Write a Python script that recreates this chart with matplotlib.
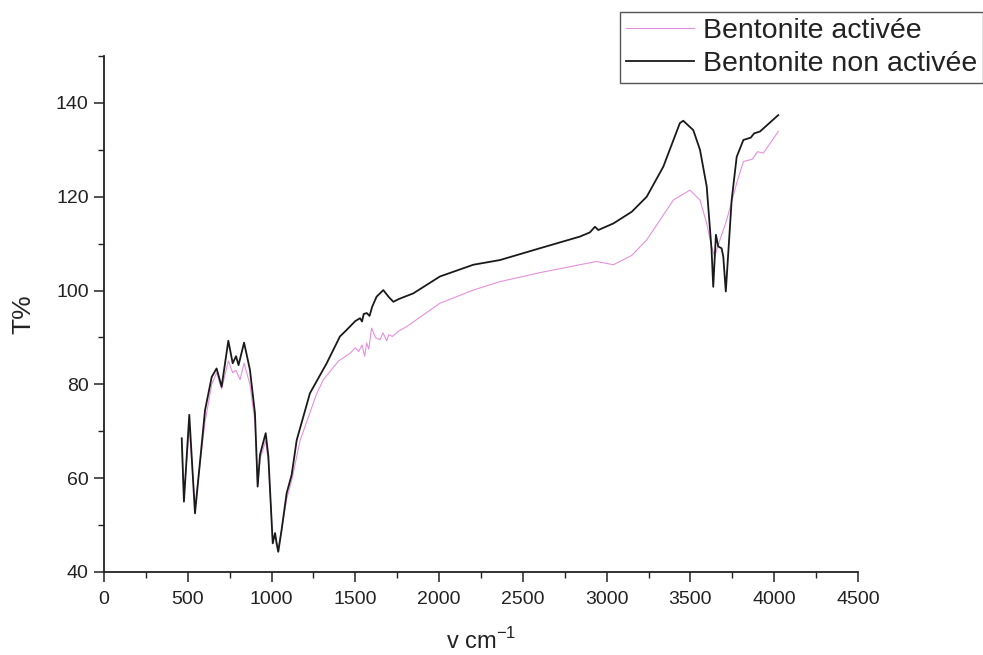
import matplotlib
matplotlib.use("Agg")
import matplotlib.pyplot as plt
from matplotlib.ticker import MultipleLocator

# Bentonite non activée (black)
wn_raw = [464, 477, 509, 543, 603, 643, 672, 702, 742, 768, 788, 803, 836, 871, 901, 917, 931,
          965, 981, 1007, 1021, 1030, 1040, 1060, 1090, 1120, 1150, 1229, 1329, 1408, 1448, 1500,
          1528, 1540, 1550, 1568, 1585, 1600, 1627, 1667, 1700, 1727, 1760, 1846, 2005, 2204,
          2363, 2600, 2840, 2900, 2930, 2950, 3040, 3150, 3239, 3338, 3437, 3457, 3517, 3557,
          3597, 3626, 3636, 3652, 3666, 3686, 3696, 3711, 3746, 3776, 3816, 3860, 3880, 3915, 4024]
t_raw = [68.5, 55.0, 73.5, 52.5, 74.5, 81.6, 83.4, 79.5, 89.3, 84.5, 86.0, 84.1, 88.9, 83.1, 73.8,
         58.2, 65.0, 69.6, 64.6, 46.1, 48.3, 46.1, 44.3, 49.0, 56.8, 60.7, 68.1, 78.1, 84.5, 90.2,
         91.6, 93.5, 94.1, 93.4, 95.0, 95.2, 94.6, 96.5, 98.7, 100.1, 98.6, 97.6, 98.2, 99.4,
         103.0, 105.5, 106.5, 109.0, 111.5, 112.4, 113.6, 112.9, 114.3, 116.8, 120.0, 126.4,
         135.7, 136.2, 134.2, 130.0, 122.2, 108.7, 100.8, 111.9, 109.4, 109.0, 107.2, 99.8, 119.3,
         128.5, 132.1, 132.6, 133.5, 133.9, 137.4]

# Bentonite activée (pink)
wn_act = [464, 477, 509, 543, 603, 643, 672, 702, 742, 768, 788, 812, 836, 871, 901, 917, 931,
          965, 981, 1007, 1021, 1040, 1060, 1090, 1120, 1170, 1269, 1309, 1400, 1468, 1500, 1520,
          1540, 1555, 1568, 1580, 1597, 1620, 1647, 1665, 1687, 1700, 1720, 1760, 1806, 2005,
          2204, 2363, 2600, 2840, 2940, 3040, 3150, 3239, 3398, 3497, 3557, 3597, 3626, 3645,
          3660, 3676, 3716, 3776, 3790, 3816, 3870, 3900, 3935, 4024]
t_act = [67.0, 56.0, 71.0, 54.0, 72.0, 80.0, 82.5, 79.0, 85.0, 82.5, 83.0, 81.0, 84.5, 80.0, 72.0,
         58.5, 64.0, 68.0, 63.5, 46.5, 48.0, 45.0, 49.0, 55.5, 59.5, 68.0, 78.0, 81.0, 85.0, 86.6,
         87.8, 87.0, 88.4, 86.0, 88.8, 87.5, 92.0, 90.0, 89.5, 91.0, 89.3, 90.6, 90.2, 91.4, 92.3,
         97.3, 100.1, 101.9, 103.8, 105.5, 106.2, 105.5, 107.5, 110.8, 119.3, 121.4, 119.3, 114.3,
         109.4, 107.2, 109.0, 110.8, 115.0, 122.9, 124.5, 127.5, 128.0, 129.6, 129.3, 133.9]

x_ticks = [0, 500, 1000, 1500, 2000, 2500, 3000, 3500, 4000, 4500]
y_ticks = [40, 60, 80, 100, 120, 140]
labels = ["Bentonite activée", "Bentonite non activée"]

plt.rcParams['font.family'] = ['Liberation Sans', 'DejaVu Sans']

fig = plt.figure(figsize=(9.83, 6.55), dpi=100)
ax = fig.add_axes([104/983, 1-572/655, (858-104)/983, (572-56)/655])

l1, = ax.plot(wn_act, t_act, color='#e690dc', lw=0.8)
l2, = ax.plot(wn_raw, t_raw, color='#1a1a1a', lw=1.3)

ax.set_xlim(0, 4500)
ax.set_ylim(40, 150)
ax.set_xticks(x_ticks)
ax.set_yticks(y_ticks)
ax.xaxis.set_minor_locator(MultipleLocator(250))
ax.yaxis.set_minor_locator(MultipleLocator(10))
for s in ['top', 'right']:
    ax.spines[s].set_visible(False)
for s in ['left', 'bottom']:
    ax.spines[s].set_linewidth(1.3)
    ax.spines[s].set_color('#222222')
ax.tick_params(which='major', direction='out', length=7, width=1.1, labelsize=14,
               colors='#222222')
ax.tick_params(axis='y', which='major', pad=4)
ax.tick_params(axis='x', which='major', pad=7)
ax.tick_params(which='minor', direction='out', length=4, width=1.0, colors='#222222')

ax.set_ylabel("T%", fontsize=19, color='#222222', labelpad=15)
ax.set_xlabel(r"v cm$^{\mathregular{-1}}$", fontsize=17, color='#222222', labelpad=14)

leg = fig.legend([l1, l2], labels, loc='upper left', bbox_to_anchor=(620/983, 1-12/655),
                 fontsize=20.5, handlelength=2.4, handletextpad=0.3, borderpad=0.2,
                 labelspacing=0.25, fancybox=False, framealpha=1, edgecolor='#555555',
                 borderaxespad=0)
leg.get_frame().set_linewidth(1.0)
for t in leg.get_texts():
    t.set_color('#222222')

fig.savefig("out.png", dpi=100, facecolor='white')
